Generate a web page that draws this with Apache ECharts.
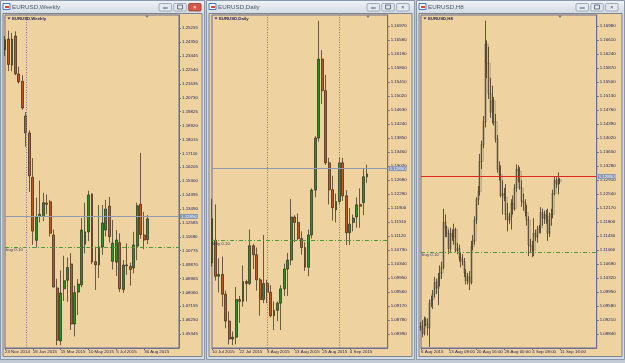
<!DOCTYPE html>
<html><head><meta charset="utf-8">
<script src="https://cdn.jsdelivr.net/npm/echarts@6/dist/echarts.min.js"></script>
<style>html,body{margin:0;padding:0;background:#c3ccd6;}#c{width:625px;height:363px;}</style>
</head><body><div id="c"></div>
<script>
// ---------- DATA (prices) ----------
// candle format: [open, close, low, high]
const weeklyStart = '2014-11-23';
const weeklyOHLC = [
 [1.2385,1.2450,1.2345,1.2475],[1.2455,1.2290,1.2247,1.2510],[1.2285,1.2455,1.2245,1.2495],[1.2475,1.2230,1.2220,1.2505],
 [1.2228,1.2178,1.2165,1.2275],[1.2180,1.2006,1.1995,1.2220],[1.1954,1.1844,1.1754,1.1980],[1.1844,1.1565,1.1460,1.1862],
 [1.1555,1.1205,1.1115,1.1680],[1.1145,1.1295,1.1098,1.1423],[1.1300,1.1315,1.1262,1.1534],[1.1300,1.1390,1.1270,1.1455],
 [1.1388,1.1380,1.1315,1.1443],[1.1396,1.1191,1.1169,1.1408],[1.1180,1.0841,1.0838,1.1215],[1.0835,1.0495,1.0462,1.0895],
 [1.0490,1.0802,1.0462,1.0950],[1.0830,1.0882,1.0750,1.1044],[1.0885,1.0968,1.0745,1.1033],[1.0991,1.0600,1.0561,1.1062],
 [1.0600,1.0805,1.0520,1.0850],[1.0808,1.0860,1.0659,1.0893],[1.0855,1.1212,1.0840,1.1290],[1.1120,1.1200,1.1060,1.1390],
 [1.1200,1.1440,1.1140,1.1468],[1.1447,1.1004,1.0990,1.1450],[1.1006,1.0985,1.0822,1.1104],[1.0985,1.1103,1.0900,1.1375],
 [1.1102,1.1258,1.1050,1.1375],[1.1212,1.1349,1.1170,1.1408],[1.1368,1.1169,1.1130,1.1427],[1.1008,1.1127,1.0955,1.1277],
 [1.1003,1.1147,1.0913,1.1212],[1.1130,1.0830,1.0808,1.1190],[1.0825,1.0984,1.0802,1.1017],[1.0985,1.0980,1.0920,1.1125],
 [1.0975,1.0955,1.0850,1.1000],[1.0965,1.1115,1.0930,1.1200],[1.1107,1.1370,1.1015,1.1390],[1.1380,1.1183,1.1155,1.1714],
 [1.1180,1.1147,1.1087,1.1330],[1.1150,1.1285,1.1120,1.1310]
];
const dailyStart = '2015-07-10';
const dailyOHLC = [
 [1.1037,1.1160,1.1027,1.1216],[1.1100,1.1000,1.0988,1.1200],[1.1000,1.1005,1.0955,1.1050],[1.1005,1.0950,1.0915,1.1055],
 [1.0950,1.0875,1.0855,1.0960],[1.0875,1.0825,1.0810,1.0902],[1.0825,1.0830,1.0808,1.0846],[1.0830,1.0935,1.0810,1.0970],
 [1.0935,1.0930,1.0870,1.0945],[1.0930,1.0985,1.0915,1.1030],[1.0985,1.0980,1.0930,1.0990],[1.0980,1.1085,1.0975,1.1130],
 [1.1085,1.1060,1.1020,1.1090],[1.1060,1.0990,1.0960,1.1080],[1.0990,1.0935,1.0890,1.0995],[1.0935,1.0980,1.0925,1.1115],
 [1.0980,1.0955,1.0925,1.0990],[1.0955,1.0890,1.0885,1.0975],[1.0890,1.0905,1.0850,1.0930],[1.0905,1.0925,1.0875,1.0930],
 [1.0925,1.0965,1.0850,1.0975],[1.0965,1.1020,1.0945,1.1035],[1.1020,1.1045,1.0945,1.1065],[1.1045,1.1165,1.1030,1.1215],
 [1.1165,1.1150,1.1095,1.1170],[1.1150,1.1105,1.1100,1.1175],[1.1105,1.1080,1.1060,1.1125],[1.1080,1.1025,1.1015,1.1095],
 [1.1025,1.1115,1.1000,1.1130],[1.1115,1.1240,1.1105,1.1245],[1.1240,1.1385,1.1220,1.1390],[1.1385,1.1605,1.1375,1.1712],
 [1.1605,1.1517,1.1480,1.1630],[1.1517,1.1316,1.1310,1.1561],[1.1316,1.1241,1.1200,1.1330],[1.1241,1.1191,1.1155,1.1280],
 [1.1185,1.1208,1.1150,1.1230],[1.1208,1.1316,1.1200,1.1332],[1.1316,1.1224,1.1210,1.1330],[1.1224,1.1121,1.1087,1.1240],
 [1.1121,1.1145,1.1087,1.1190],[1.1150,1.1162,1.1125,1.1172],[1.1165,1.1199,1.1135,1.1220],[1.1200,1.1195,1.1135,1.1245],
 [1.1205,1.1277,1.1170,1.1300],[1.1277,1.1285,1.1260,1.1311]
];
const h8Start = '2015-08-06';
const h8OHLC = [
 [1.0905,1.0900,1.0893,1.0915],[1.0900,1.0885,1.0875,1.0920],[1.0885,1.0922,1.0880,1.0930],
 [1.0922,1.0910,1.0905,1.0928],[1.0910,1.0900,1.0880,1.0925],[1.0900,1.0965,1.0850,1.0975],
 [1.0965,1.0975,1.0955,1.0985],[1.0975,1.0990,1.0950,1.1000],[1.0990,1.1020,1.0980,1.1035],
 [1.1020,1.1005,1.0990,1.1030],[1.1005,1.1030,1.0960,1.1045],[1.1030,1.1045,1.1010,1.1065],
 [1.1045,1.1060,1.1030,1.1075],[1.1060,1.1180,1.1055,1.1215],[1.1180,1.1165,1.1140,1.1200],
 [1.1165,1.1150,1.1140,1.1170],[1.1150,1.1110,1.1095,1.1160],[1.1110,1.1150,1.1100,1.1165],
 [1.1150,1.1140,1.1130,1.1160],[1.1140,1.1160,1.1120,1.1175],[1.1160,1.1105,1.1100,1.1165],
 [1.1105,1.1110,1.1095,1.1125],[1.1110,1.1085,1.1075,1.1120],[1.1085,1.1080,1.1060,1.1100],
 [1.1080,1.1075,1.1065,1.1095],[1.1075,1.1045,1.1035,1.1085],[1.1045,1.1025,1.1015,1.1055],
 [1.1025,1.1035,1.1015,1.1045],[1.1035,1.1020,1.1000,1.1050],[1.1020,1.1115,1.1015,1.1130],
 [1.1115,1.1130,1.1105,1.1145],[1.1130,1.1185,1.1120,1.1195],[1.1185,1.1240,1.1175,1.1245],
 [1.1240,1.1260,1.1225,1.1275],[1.1260,1.1340,1.1250,1.1360],[1.1340,1.1385,1.1320,1.1395],
 [1.1385,1.1445,1.1375,1.1460],[1.1445,1.1650,1.1430,1.1712],[1.1650,1.1600,1.1560,1.1660],
 [1.1600,1.1520,1.1505,1.1643],[1.1520,1.1470,1.1455,1.1561],[1.1470,1.1500,1.1440,1.1540],
 [1.1500,1.1445,1.1435,1.1510],[1.1445,1.1400,1.1390,1.1465],[1.1400,1.1320,1.1310,1.1410],
 [1.1320,1.1305,1.1290,1.1340],[1.1305,1.1250,1.1245,1.1330],[1.1250,1.1255,1.1200,1.1290],
 [1.1255,1.1245,1.1235,1.1270],[1.1245,1.1200,1.1185,1.1280],[1.1200,1.1185,1.1155,1.1230],
 [1.1185,1.1195,1.1175,1.1205],[1.1195,1.1230,1.1160,1.1240],[1.1230,1.1215,1.1200,1.1250],
 [1.1215,1.1270,1.1210,1.1280],[1.1270,1.1320,1.1260,1.1332],[1.1320,1.1315,1.1285,1.1330],
 [1.1315,1.1270,1.1265,1.1325],[1.1270,1.1235,1.1220,1.1290],[1.1235,1.1230,1.1210,1.1255],
 [1.1230,1.1205,1.1195,1.1240],[1.1205,1.1185,1.1170,1.1225],[1.1185,1.1120,1.1090,1.1195],
 [1.1120,1.1115,1.1100,1.1135],[1.1115,1.1105,1.1087,1.1130],[1.1105,1.1150,1.1090,1.1190],
 [1.1150,1.1140,1.1130,1.1160],[1.1140,1.1160,1.1125,1.1170],[1.1160,1.1165,1.1150,1.1172],
 [1.1165,1.1205,1.1150,1.1219],[1.1205,1.1190,1.1170,1.1215],[1.1190,1.1200,1.1175,1.1210],
 [1.1200,1.1185,1.1175,1.1212],[1.1185,1.1150,1.1130,1.1215],[1.1150,1.1195,1.1140,1.1205],
 [1.1195,1.1200,1.1170,1.1215],[1.1200,1.1255,1.1190,1.1265],[1.1255,1.1290,1.1250,1.1300],
 [1.1290,1.1280,1.1270,1.1298],[1.1280,1.1292,1.1253,1.1311],[1.1292,1.1286,1.1280,1.1296]
];
const bidPrice = 1.12850;
const orderPrice = 1.11300;   // red dash-dot
const targetPrice = 1.11140;  // green dash-dot
const orderText = 'buy 0.10';
const yTicks1 = {min:1.04440, step:0.00905, max:1.26119};
const yTicks2 = {min:1.08000, step:0.00390, max:1.17279};
const yTicks3 = {min:1.08470, step:0.00370, max:1.17269};
const titles = ['EURUSD,Weekly','EURUSD,Daily','EURUSD,H8'];
const separators1 = [6];
const separators2 = [16, 37];

// ---------- category builders ----------
const MON = ['Jan','Feb','Mar','Apr','May','Jun','Jul','Aug','Sep','Oct','Nov','Dec'];
function parseD(s){const p=s.split('-');return new Date(Date.UTC(+p[0],+p[1]-1,+p[2]));}
function dLabel(d){return d.getUTCDate()+' '+MON[d.getUTCMonth()]+' '+d.getUTCFullYear();}
function weekCats(start,n){const out=[];let d=parseD(start);for(let i=0;i<n;i++){out.push(dLabel(d));d=new Date(d.getTime()+7*864e5);}return out;}
function tradeDays(start,n){const out=[];let d=parseD(start);while(out.length<n){const w=d.getUTCDay();if(w!==0&&w!==6)out.push(new Date(d));d=new Date(d.getTime()+864e5);}return out;}
function dayCats(start,n){return tradeDays(start,n).map(dLabel);}
function h8Cats(start,n){const days=tradeDays(start,Math.ceil(n/3));const out=[];days.forEach(d=>{['00:00','08:00','16:00'].forEach(h=>{out.push(out.length===0?dLabel(d):d.getUTCDate()+' '+MON[d.getUTCMonth()]+' '+h);});});return out.slice(0,n);}
function pad(a,n){a=a.slice();while(a.length<n)a.push('');return a;}

const cats1 = pad(weekCats(weeklyStart, weeklyOHLC.length), 51);
const cats2 = pad(dayCats(dailyStart, dailyOHLC.length), 52);
const cats3 = pad(h8Cats(h8Start, h8OHLC.length), 102);

// ---------- styles ----------
const BEIGE='#eed2a0', FRAME='#6d6d92', LBL='#23235e', FS=4.4;
const FONT="'Liberation Sans', Arial, sans-serif";
const grids=[{left:5,top:15,width:174,height:333},{left:212,top:15,width:175.7,height:333},{left:421,top:15,width:175.7,height:333}];

function xAxis(i,cats,n,step){
  const f=(idx)=>idx%step===0&&idx<n;
  return {type:'category',gridIndex:i,data:cats,boundaryGap:false,
    axisLine:{show:true,lineStyle:{color:FRAME,width:1}},
    axisTick:{show:true,interval:f,length:2,lineStyle:{color:FRAME}},
    axisLabel:{show:true,interval:f,align:'left',margin:2,fontSize:FS,color:LBL,fontFamily:FONT,hideOverlap:false},
    splitLine:{show:false}};
}
function yAxis(i,t){
  return {type:'value',gridIndex:i,position:'right',min:t.min,max:t.max,interval:t.step,
    axisLine:{show:true,lineStyle:{color:FRAME}},
    axisTick:{show:true,length:2,lineStyle:{color:FRAME}},
    axisLabel:{showMinLabel:false,showMaxLabel:false,margin:3,fontSize:FS,color:LBL,fontFamily:FONT,hideOverlap:false,
      formatter:v=>v.toFixed(5)},
    splitLine:{show:false}};
}
function hLines(bidColor,withHash){
  const lab={show:true,position:'insideStartBottom',formatter:orderText,fontSize:FS,color:'#3a3a66',fontFamily:FONT,distance:1};
  const d=[
    {yAxis:bidPrice,lineStyle:{color:bidColor,type:'solid',width:1},
      label:{show:true,position:'end',formatter:bidPrice.toFixed(5),backgroundColor:'#8596b2',color:'#f4f6fa',fontSize:FS,fontFamily:FONT,padding:[1,1,0,1],distance:1}},
    {yAxis:orderPrice,lineStyle:{color:'#e2402c',type:[4,2,1,2],width:1},label:lab},
    {yAxis:targetPrice,lineStyle:{color:'#4f9a3a',type:[4,2,1,2],width:1},label:{show:false}}
  ];
  if(withHash) d.push({yAxis:orderPrice,lineStyle:{opacity:0},label:{show:true,position:'insideStartTop',formatter:'#',fontSize:FS,color:'#3a3a66',distance:1}});
  return d;
}
function vLines(arr){return arr.map(v=>({xAxis:v,lineStyle:{color:'#7c7a96',type:[1,1.5],width:1},label:{show:false}}));}

function candle(i,data,bw,marks){
  return {type:'candlestick',xAxisIndex:i,yAxisIndex:i,data:data,barWidth:bw,clip:false,z:3,
    itemStyle:{color:'#24912a',color0:'#b85a28',borderColor:'#2a2a18',borderColor0:'#3a2414',borderWidth:0.7},
    markLine:{symbol:'none',silent:true,animation:false,data:marks}};
}
function halo(i,data,bw){
  return {type:'candlestick',xAxisIndex:i,yAxisIndex:i,data:data,barWidth:bw,clip:false,z:2,silent:true,
    itemStyle:{color:'rgba(110,100,80,0.22)',color0:'rgba(110,100,80,0.22)',borderColor:'rgba(110,100,80,0.22)',borderColor0:'rgba(110,100,80,0.22)',borderWidth:1}};
}

// ---------- window chrome ----------
const wins=[{x:0,w:205,btnX:159},{x:206,w:209,btnX:367},{x:416,w:209,btnX:576}];
const shiftX=[147,368,560];
const gfx=[];
wins.forEach((w,k)=>{
  gfx.push({type:'rect',z:-10,shape:{x:w.x+0.5,y:0.5,width:w.w-1,height:359},style:{fill:'#d3dbe4',stroke:'#8a97a8',lineWidth:1}});
  gfx.push({type:'rect',z:-9,shape:{x:w.x+1,y:1,width:w.w-2,height:12},style:{fill:new echarts.graphic.LinearGradient(0,0,0,1,[{offset:0,color:'#eef2f6'},{offset:1,color:'#d5dce5'}])}});
  gfx.push({type:'rect',z:-8,shape:{x:w.x+3,y:13.5,width:w.w-6,height:343},style:{fill:BEIGE,stroke:'#5f6d80',lineWidth:0.8}});
  gfx.push({type:'rect',z:5,shape:{x:w.x+3,y:3.5,width:7,height:6},style:{fill:'#f4f6fb',stroke:'#3b78c9',lineWidth:1}});
  gfx.push({type:'rect',z:6,shape:{x:w.x+5,y:6,width:4,height:2},style:{fill:'#d24a3a'}});
  gfx.push({type:'text',z:6,style:{x:w.x+12,y:7.3,text:titles[k],fontSize:6.2,fontFamily:"'Liberation Sans Narrow','Liberation Sans',sans-serif",fill:'#4c5566',textVerticalAlign:'middle'}});
  for(let b=0;b<3;b++){
    const red=(k===0&&b===2);
    gfx.push({type:'rect',z:5,shape:{x:w.btnX+b*14.8,y:3.5,width:12.5,height:7.5,r:1},
      style:{fill:red?'#d9574a':'#e4e9ef',stroke:red?'#9b3a30':'#8d99aa',lineWidth:0.8}});
    const cx=w.btnX+b*14.8+6.25;
    if(b===0) gfx.push({type:'rect',z:6,shape:{x:cx-2.5,y:7.5,width:5,height:1},style:{fill:'#4a5568'}});
    if(b===1) gfx.push({type:'rect',z:6,shape:{x:cx-2.5,y:5,width:5,height:4},style:{fill:'none',stroke:'#4a5568',lineWidth:0.8}});
    if(b===2) gfx.push({type:'text',z:6,style:{x:cx,y:7.4,text:'×',fontSize:6,fill:red?'#fff':'#4a5568',textAlign:'center',textVerticalAlign:'middle'}});
  }
  const g=grids[k];
  gfx.push({type:'polygon',z:6,shape:{points:[[g.left+2.5,17.5],[g.left+5.5,17.5],[g.left+4,19.5]]},style:{fill:'#23235e'}});
  gfx.push({type:'text',z:6,style:{x:g.left+7,y:18.7,text:titles[k],fontSize:4.3,fontWeight:'bold',fontFamily:FONT,fill:'#23235e',textVerticalAlign:'middle'}});
  gfx.push({type:'polygon',z:6,shape:{points:[[shiftX[k]-2,15.5],[shiftX[k]+2,15.5],[shiftX[k],18]]},style:{fill:'#7c8aa8'}});
});

const chart=echarts.init(document.getElementById('c'),null,{renderer:'canvas'});
chart.setOption({
  animation:false,
  backgroundColor:'#c3ccd6',
  grid:grids.map(g=>Object.assign({show:true,borderColor:FRAME,borderWidth:1,backgroundColor:'transparent',containLabel:false,outerBoundsMode:'none'},g)),
  xAxis:[xAxis(0,cats1,weeklyOHLC.length,8),xAxis(1,cats2,dailyOHLC.length,8),xAxis(2,cats3,h8OHLC.length,16)],
  yAxis:[yAxis(0,yTicks1),yAxis(1,yTicks2),yAxis(2,yTicks3)],
  series:[
    candle(0,weeklyOHLC,2.4,hLines('#8e9bb0',false).concat(vLines(separators1))),
    candle(1,dailyOHLC,2.4,hLines('#8e9bb0',false).concat(vLines(separators2))),
    halo(2,h8OHLC,3),
    candle(2,h8OHLC,1.2,hLines('#e0281e',true))
  ],
  graphic:{elements:gfx}
});
</script></body></html>
